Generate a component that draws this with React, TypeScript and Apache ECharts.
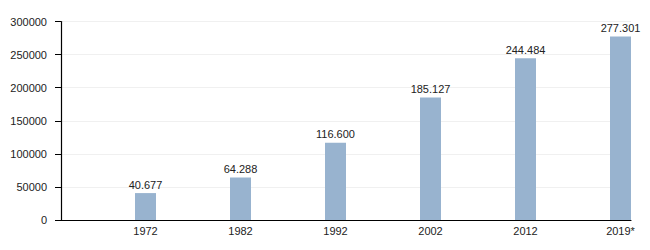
import React, { useEffect, useRef } from "react";
import * as echarts from "echarts";

const years = ["1972", "1982", "1992", "2002", "2012", "2019*"];
const population = [40677, 64288, 116600, 185127, 244484, 277301];
const yTicks = { min: 0, max: 300000, interval: 50000 };

const fmt = (v: number) => String(Math.round(v)).replace(/\B(?=(\d{3})+(?!\d))/g, ".");

export default function App() {
  const ref = useRef<HTMLDivElement>(null);
  useEffect(() => {
    const chart = echarts.init(ref.current!, null, { renderer: "svg" });
    const font = "'Liberation Sans', Arial, sans-serif";
    chart.setOption({
      animation: false,
      backgroundColor: "#ffffff",
      textStyle: { fontFamily: font },
      grid: [
        { left: 61, right: 19, top: 21.5, bottom: 30 },
        { left: 145.5, right: 29.5, top: 21.5, bottom: 30 },
      ],
      xAxis: [
        {
          gridIndex: 0,
          type: "category",
          data: years,
          axisLine: { show: true, lineStyle: { color: "#000", width: 1.2 } },
          axisTick: { show: false },
          axisLabel: { show: false },
          splitLine: { show: false },
        },
        {
          gridIndex: 1,
          type: "category",
          boundaryGap: false,
          data: years,
          axisLine: { show: false },
          axisTick: { show: false },
          axisLabel: { color: "#222", fontSize: 11, margin: 5, fontFamily: font },
          splitLine: { show: false },
        },
      ],
      yAxis: [
        {
          gridIndex: 0,
          type: "value",
          min: yTicks.min,
          max: yTicks.max,
          interval: yTicks.interval,
          axisLine: { show: true, lineStyle: { color: "#000", width: 1.2 } },
          axisTick: { show: true, length: 6, lineStyle: { color: "#000" } },
          axisLabel: {
            color: "#222",
            fontSize: 11,
            margin: 14,
            fontFamily: font,
            formatter: (v: number) => String(v),
          },
          splitLine: { show: true, lineStyle: { color: "#f0f0f0", width: 1 } },
        },
        {
          gridIndex: 1,
          type: "value",
          min: yTicks.min,
          max: yTicks.max,
          interval: yTicks.interval,
          show: false,
          splitLine: { show: false },
        },
      ],
      series: [
        {
          type: "bar",
          xAxisIndex: 1,
          yAxisIndex: 1,
          data: population,
          barWidth: 21,
          clip: false,
          itemStyle: { color: "#98b3cf" },
          label: {
            show: true,
            position: "top",
            distance: 3,
            color: "#222",
            fontSize: 11,
            fontFamily: font,
            formatter: (p: any) => fmt(p.value),
          },
        },
      ],
    });
    return () => chart.dispose();
  }, []);
  return (
    <div
      ref={ref}
      style={{ position: "fixed", left: 0, top: 0, width: 650, height: 250 }}
    />
  );
}
